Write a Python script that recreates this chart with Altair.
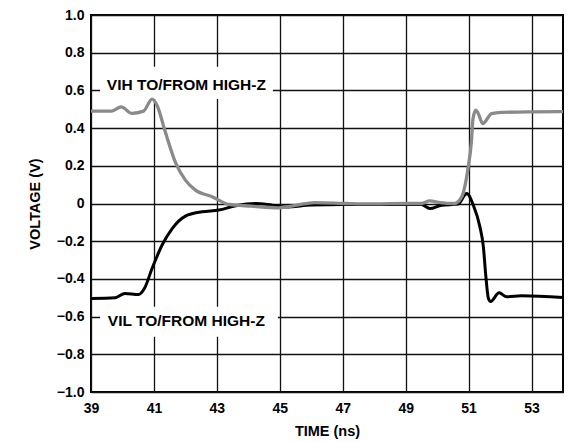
import altair as alt
import pandas as pd

# VIH to/from High-Z (grey trace)
vih_t = [39.0, 39.66, 39.96, 40.3, 40.67, 40.94, 41.1, 41.36, 41.68, 42.0, 42.32, 42.85,
         43.38, 44.1, 44.96, 45.5, 46.1, 47.16, 48.0, 49.0, 49.5, 49.76, 50.1, 50.55,
         50.78, 50.98, 51.09, 51.14, 51.23, 51.3, 51.45, 51.73, 52.05, 53.0, 54.0]
vih_v = [0.49, 0.49, 0.513, 0.478, 0.49, 0.554, 0.52, 0.38, 0.22, 0.124, 0.071, 0.036,
         -0.005, -0.014, -0.023, -0.01, 0.005, 0.0, -0.002, 0.0, 0.0, 0.014, 0.005, 0.0,
         0.035, 0.186, 0.33, 0.45, 0.495, 0.48, 0.424, 0.477, 0.483, 0.486, 0.487]

# VIL to/from High-Z (black trace)
vil_t = [39.0, 39.77, 40.08, 40.51, 40.70, 40.94, 41.26, 41.58, 42.0, 42.53, 43.06, 43.6,
         44.23, 44.76, 45.2, 46.0, 47.0, 48.0, 49.0, 49.5, 49.77, 50.14, 50.67, 50.88,
         50.94, 51.15, 51.36, 51.47, 51.54, 51.63, 51.7, 51.97, 52.21, 52.69, 54.0]
vil_v = [-0.504, -0.50, -0.477, -0.483, -0.45, -0.345, -0.22, -0.133, -0.067, -0.044,
         -0.035, -0.012, 0.0, -0.009, -0.018, -0.008, -0.005, -0.005, -0.005, -0.005,
         -0.027, -0.009, -0.003, 0.045, 0.053, -0.009, -0.124, -0.23, -0.371, -0.504,
         -0.52, -0.474, -0.495, -0.49, -0.499]

x_ticks = [39, 41, 43, 45, 47, 49, 51, 53]
y_ticks = [-1.0, -0.8, -0.6, -0.4, -0.2, 0.0, 0.2, 0.4, 0.6, 0.8, 1.0]

label_text = ["VIH TO/FROM HIGH-Z", "VIL TO/FROM HIGH-Z"]
label_t = [42.03, 42.03]
label_v = [0.631, -0.624]
box_t1 = [39.29, 39.29]
box_t2 = [44.78, 44.94]
box_v1 = [0.555, -0.548]
box_v2 = [0.725, -0.707]

FONT = "Liberation Sans"

vih_df = pd.DataFrame({"t": vih_t, "v": vih_v})
vil_df = pd.DataFrame({"t": vil_t, "v": vil_v})
lab_df = pd.DataFrame({"text": label_text, "t": label_t, "v": label_v,
                       "t1": box_t1, "t2": box_t2, "v1": box_v1, "v2": box_v2})

xscale = alt.Scale(domain=[39, 54], nice=False, zero=False)
yscale = alt.Scale(domain=[-1, 1], nice=False, zero=False)

xaxis = alt.Axis(values=x_ticks, tickCount=20, grid=True, gridColor="#111111", gridWidth=1.3,
                 domain=False, ticks=False, labelFont=FONT, labelFontWeight="bold",
                 labelFontSize=14, labelColor="black", labelPadding=9, labelOverlap=False,
                 labelFlush=False,
                 title="TIME (ns)", titleFont=FONT, titleFontWeight="bold",
                 titleFontSize=14.5, titleColor="black", titlePadding=9)
yaxis = alt.Axis(values=y_ticks, tickCount=20, grid=True, gridColor="#111111", gridWidth=1.3,
                 domain=False, ticks=False, labelFont=FONT, labelFontWeight="bold",
                 labelFontSize=14, labelColor="black", labelPadding=7, labelOverlap=False,
                 labelFlush=False,
                 labelExpr="datum.value == 0 ? '0' : replace(format(datum.value, '.1f'), '-', '\u2013')",
                 title="VOLTAGE (V)", titleFont=FONT, titleFontWeight="bold",
                 titleFontSize=14.5, titleColor="black", titlePadding=14)

base_grid = alt.Chart(vil_df).mark_line(strokeWidth=3, color="black", interpolate="monotone").encode(
    x=alt.X("t:Q", scale=xscale, axis=xaxis),
    y=alt.Y("v:Q", scale=yscale, axis=yaxis),
)

boxes = alt.Chart(lab_df).mark_rect(color="white").encode(
    x="t1:Q", x2="t2:Q", y="v1:Q", y2="v2:Q"
)

vih_line = alt.Chart(vih_df).mark_line(strokeWidth=3.3, color="#8a8a8a", interpolate="monotone").encode(
    x="t:Q", y="v:Q"
)

texts = alt.Chart(lab_df).mark_text(font=FONT, fontWeight="bold", fontSize=15.5,
                                    color="black", align="center", baseline="middle").encode(
    x="t:Q", y="v:Q", text="text:N"
)

chart = alt.layer(boxes, base_grid, vih_line, texts).properties(
    width=472, height=377,
    autosize=alt.AutoSizeParams(type="none"),
    padding={"left": 83, "top": 7, "right": 11, "bottom": 50},
).configure_view(stroke="black", strokeWidth=2)

chart.save("out.html", embed_options={"renderer": "svg", "actions": False})
